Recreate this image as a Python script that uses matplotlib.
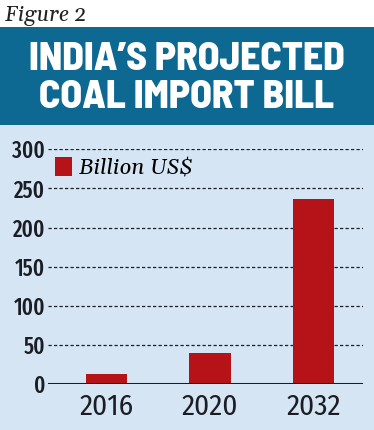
import matplotlib
matplotlib.use("Agg")
import numpy as np
from matplotlib import pyplot as plt
from matplotlib.patches import Patch, Rectangle

# data
years = ['2016', '2020', '2032']
bill = [13, 40, 236]          # billion US$
yticks = [0, 50, 100, 150, 200, 250, 300]
series_name = 'Billion US$'

title_top = "INDIA’S PROJECTED"
title_bottom = "COAL IMPORT BILL"
fig_label = 'Figure 2'

W, H = 374, 430
band_blue = '#0d6892'
panel_blue = '#d6e5f3'
bar_red = '#b51318'
ink = '#1b1d26'

head = ['Barlow Semi Condensed', 'Oswald', 'DejaVu Sans']
ynum = ['Fira Sans Extra Condensed', 'Barlow Condensed', 'DejaVu Sans']
xnum = ['Fira Sans Condensed', 'Barlow Semi Condensed', 'DejaVu Sans']
serif = ['Gelasio', 'Liberation Serif', 'DejaVu Serif']

fig = plt.figure(figsize=(W / 100, H / 100), dpi=100)
fig.patch.set_facecolor(panel_blue)

# white strip with the figure label, then the blue title band
fig.add_artist(Rectangle((0, 1 - 27 / H), 1, 27 / H, transform=fig.transFigure,
                         facecolor='white', edgecolor='none', zorder=0))
fig.add_artist(Rectangle((0, 1 - 125 / H), 1, 98 / H, transform=fig.transFigure,
                         facecolor=band_blue, edgecolor='none', zorder=0))
fig.text(5 / W, 1 - 21 / H, fig_label, family=serif, style='italic',
         fontsize=15.5, color='#222222', va='baseline', ha='left')
fig.text(0.5, 1 - 70 / H, title_top, family=head, weight=800,
         fontsize=28.5, color='white', ha='center', va='baseline')
fig.text(0.5, 1 - 108 / H, title_bottom, family=head, weight=800,
         fontsize=28.5, color='white', ha='center', va='baseline')

ax = fig.add_axes([48 / W, 1 - 384 / H, 315 / W, 234.7 / H])
ax.set_facecolor('none')
x = np.arange(len(years))
ax.bar(x, bill, width=0.4, color=bar_red, zorder=3)
ax.set_xlim(-0.565, 2.478)
ax.set_ylim(0, 300)

for v in yticks[1:]:
    ax.axhline(v, color=ink, lw=0.9, linestyle=(0, (2.6, 1.8)), zorder=1)
ax.axhline(0, color=ink, lw=2.2, zorder=4)

for s in ax.spines.values():
    s.set_visible(False)
ax.set_yticks(yticks)
ax.set_yticklabels([str(v) for v in yticks], family=ynum, weight=500,
                   fontsize=16.5, color=ink)
ax.set_xticks(x)
ax.set_xticklabels(years, family=xnum, weight=400, fontsize=21, color=ink)
ax.tick_params(axis='y', length=0, pad=2)
ax.tick_params(axis='x', length=0, pad=6)

ax.legend(handles=[Patch(facecolor=bar_red, label=series_name)],
          loc='upper left', bbox_to_anchor=(7 / 315, 1 - 8 / 234.7),
          frameon=False, borderpad=0, borderaxespad=0,
          handlelength=0.75, handleheight=0.9, handletextpad=0.35,
          prop={'family': serif, 'style': 'italic', 'size': 16})

plt.savefig('out.png', dpi=100, facecolor=fig.get_facecolor())
